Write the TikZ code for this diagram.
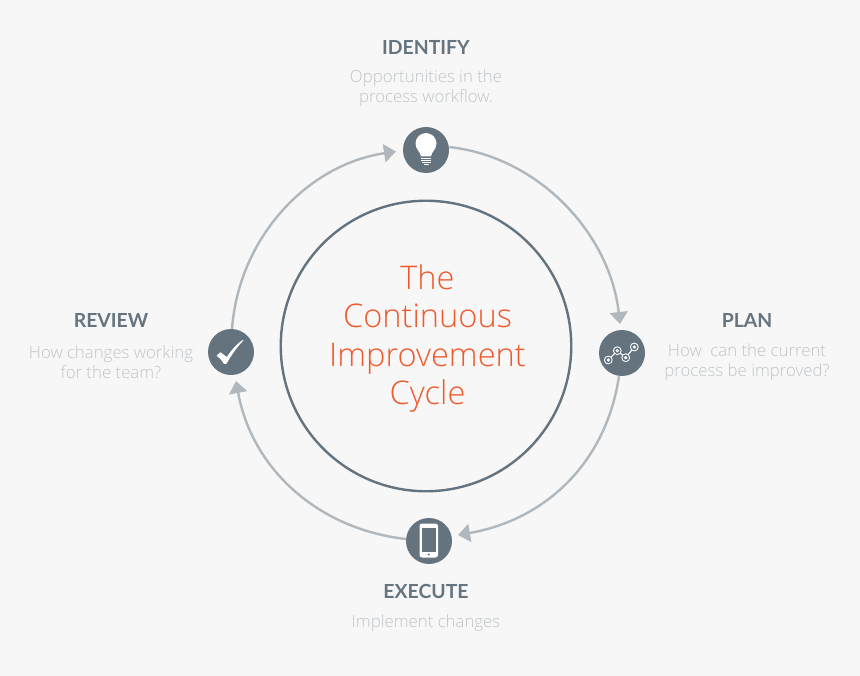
\documentclass[tikz,border=0pt]{standalone}
\usepackage{fontspec}
\usetikzlibrary{arrows.meta}
\setmainfont{Open Sans Light}
\newfontfamily\headfont{Lato}[BoldFont={Lato Bold}]
\definecolor{bgc}{HTML}{F7F7F7}
\definecolor{slatec}{HTML}{64737E}
\definecolor{ringc}{HTML}{B0B8BD}
\definecolor{headc}{HTML}{65747E}
\definecolor{descc}{HTML}{BFC4C8}
\definecolor{orangec}{HTML}{EF5A2B}
\tikzset{
  iconnode/.style={circle,fill=slatec,minimum size=46pt,inner sep=0pt},
  headtext/.style={font=\headfont\bfseries\fontsize{19.4}{22}\selectfont,text=headc,inner sep=0pt,anchor=base},
  desctext/.style={font=\fontsize{16.8}{20}\selectfont,text=descc,inner sep=0pt,align=center,anchor=center},
  ringline/.style={draw=ringc,line width=2.4pt,-{Triangle[width=18pt,length=12pt]}},
  iconw/.style={fill=white,draw=none}
}
\begin{document}
\begin{tikzpicture}[x=1pt,y=-1pt]
\useasboundingbox (0,0) rectangle (860,676);
\fill[bgc] (0,0) rectangle (860,676);
\node[circle,draw=slatec,line width=2.4pt,minimum size=290.5pt,inner sep=0pt] (core) at (426,346) {};
\node[font=\fontsize{32.6}{38.3}\selectfont,text=orangec,align=center,inner sep=0pt] (title) at (427.5,338.5) {The\\Continuous\\Improvement\\Cycle};
\node[iconnode] (identify) at (426,150) {};
\node[iconnode] (plan) at (622,353) {};
\node[iconnode] (execute) at (429,541) {};
\node[iconnode] (review) at (231,352) {};
\coordinate (tipA) at (620,324);
\coordinate (tipB) at (458,535);
\coordinate (tipC) at (236,381);
\coordinate (tipD) at (396,151.5);
\draw[ringline] (identify.east) ++(0,-3) .. controls +(90,10) and +(-10,-90) .. (tipA);
\draw[ringline] (plan.south) ++(-3,0) .. controls +(-13,87) and +(87,-15) .. (tipB);
\draw[ringline] (execute.west) ++(0,-2) .. controls +(-88,-10) and +(16,88) .. (tipC);
\draw[ringline] (review.north) ++(1,0) .. controls +(7,-92) and +(-88,13) .. (tipD);
\node[headtext] (h1) at (426,54.5) {\textbf{IDENTIFY}};
\node[headtext] (h2) at (747,328) {\textbf{PLAN}};
\node[headtext] (h3) at (426,598.5) {\textbf{EXECUTE}};
\node[headtext] (h4) at (111,328) {\textbf{REVIEW}};
\node[desctext] (d1) at (426,88.5) {Opportunities in the\\process workflow.};
\node[desctext] (d2) at (747,362) {How\ \ can the current\\process be improved?};
\node[desctext] (d3) at (426,623) {Implement changes};
\node[desctext] (d4) at (111,362) {How changes working\\for the team?};
% bulb
\fill[iconw] (421,156.5) .. controls (420.5,151.5) and (415.5,149.5) .. (415.5,143.5) arc[start angle=180,end angle=360,radius=10.5] .. controls (436.5,149.5) and (431.5,151.5) .. (431,156.5) -- cycle;
\fill[iconw] (421,157.8) rectangle (431,159);
\fill[iconw] (421,160) rectangle (431,161.2);
\fill[iconw] (421.5,162.2) rectangle (430.5,163.4);
\fill[iconw] (423.5,164.2) rectangle (428.5,165.5);
% chart
\draw[white,line width=1.1pt] (608.3,360) -- (617.3,350.7) -- (625.7,357.7) -- (634.3,347);
\foreach \p in {(608.3,360),(617.3,350.7),(625.7,357.7),(634.3,347)}{
  \fill[white] \p circle[radius=4.4];
  \fill[slatec] \p circle[radius=3.3];
  \fill[white] \p circle[radius=1.8];
}
% phone
\fill[iconw,rounded corners=2.5pt] (419.5,523.5) rectangle (438,557.5);
\fill[slatec] (422,528) rectangle (436,551.5);
\fill[slatec] (428.7,554.5) circle[radius=1.2];
% check
\fill[iconw] (216.7,355.5) -- (220.5,352.3) -- (226.8,357) .. controls (231,350.5) and (236,344.5) .. (243,339.8) -- (243.3,340.6) .. controls (236,348) and (231,356) .. (226.3,364) -- (224,364) .. controls (222,360.5) and (219.5,358) .. (216.7,355.5) -- cycle;
\end{tikzpicture}
\end{document}
